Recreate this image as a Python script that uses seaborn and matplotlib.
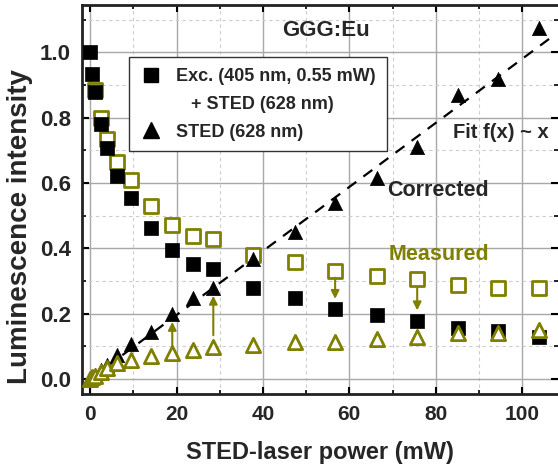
import matplotlib
matplotlib.use("Agg")
import matplotlib.pyplot as plt
import numpy as np
import pandas as pd
import seaborn as sns
from matplotlib.lines import Line2D
from matplotlib.ticker import MultipleLocator

# STED laser power (mW)
power = [0, 0.5, 1.2, 2.6, 3.9, 6.2, 9.5, 14.1, 19.0, 23.8, 28.5, 37.7,
         47.4, 56.7, 66.4, 75.7, 85.2, 94.4, 104.0]

# Exc. + STED: corrected (filled) and measured (open, first two hidden under filled)
exc_corr = [1.0, 0.935, 0.88, 0.78, 0.707, 0.62, 0.553, 0.462, 0.395, 0.352,
            0.336, 0.278, 0.248, 0.214, 0.196, 0.177, 0.156, 0.147, 0.13]
exc_meas = [np.nan, np.nan, 0.885, 0.80, 0.735, 0.663, 0.609, 0.529, 0.471, 0.437,
            0.428, 0.379, 0.358, 0.33, 0.315, 0.306, 0.287, 0.278, 0.278]

# STED only: corrected (filled) and measured (open)
sted_corr = [0.0, 0.005, 0.012, 0.027, 0.042, 0.073, 0.107, 0.144, 0.2, 0.248,
             0.278, 0.367, 0.45, 0.538, 0.614, 0.71, 0.868, 0.917, 1.076]
sted_meas = [0.0, 0.005, 0.01, 0.022, 0.033, 0.048, 0.058, 0.07, 0.08, 0.088,
             0.097, 0.104, 0.113, 0.113, 0.122, 0.13, 0.14, 0.14, 0.15]

# linear fit f(x) ~ x
fit_slope = 0.0098
fit_range = [0, 107]

# olive correction arrows
arrow_x = [19.0, 28.5, 56.7, 75.7]
arrow_from = [0.10, 0.134, 0.31, 0.278]
arrow_to = [0.175, 0.255, 0.245, 0.21]

OLIVE = "#808000"

sns.set_style("whitegrid")
plt.rcParams["font.family"] = ["Liberation Sans", "DejaVu Sans"]
plt.rcParams["font.weight"] = "bold"
plt.rcParams["axes.labelweight"] = "bold"

df = pd.DataFrame({"power": power, "exc_corr": exc_corr, "exc_meas": exc_meas,
                   "sted_corr": sted_corr, "sted_meas": sted_meas})

fig = plt.figure(figsize=(5.58, 4.70), dpi=100)
ax = fig.add_axes([82 / 558, 76 / 470, 476 / 558, 389 / 470])

ms = 90
sns.scatterplot(data=df, x="power", y="exc_meas", marker="s", s=ms,
                facecolor="white", edgecolor=OLIVE, linewidth=2, ax=ax, zorder=3)
sns.scatterplot(data=df, x="power", y="exc_corr", marker="s", s=ms,
                color="black", edgecolor="black", linewidth=0.5, ax=ax, zorder=4)
sns.scatterplot(data=df, x="power", y="sted_corr", marker="^", s=ms + 15,
                color="black", edgecolor="black", linewidth=0.5, ax=ax, zorder=5)
sns.scatterplot(data=df, x="power", y="sted_meas", marker="^", s=ms + 15,
                facecolor="white", edgecolor=OLIVE, linewidth=2, ax=ax, zorder=6)

fx = np.array(fit_range)
ax.plot(fx, fit_slope * fx, color="black", ls=(0, (5, 4)), lw=1.6, zorder=2)

for xa, y0, y1 in zip(arrow_x, arrow_from, arrow_to):
    ax.annotate("", xy=(xa, y1), xytext=(xa, y0),
                arrowprops=dict(arrowstyle="-|>", color=OLIVE, lw=1.5,
                                mutation_scale=12, shrinkA=0, shrinkB=0),
                zorder=7)

ax.text(44.5, 1.067, "GGG:Eu", fontsize=16, fontweight="bold", va="center")
ax.text(84, 0.755, "Fit f(x) ~ x", fontsize=14.5, fontweight="bold", va="center")
ax.text(68.7, 0.578, "Corrected", fontsize=15.5, fontweight="bold", va="center")
ax.text(69, 0.38, "Measured", fontsize=15.5, fontweight="bold", va="center",
        color=OLIVE)

ax.set_xlim(-1.9, 108.3)
ax.set_ylim(-0.046, 1.145)
ax.xaxis.set_major_locator(MultipleLocator(20))
ax.xaxis.set_minor_locator(MultipleLocator(10))
ax.yaxis.set_major_locator(MultipleLocator(0.2))
ax.yaxis.set_minor_locator(MultipleLocator(0.1))
ax.set_yticks(np.arange(0, 1.01, 0.2))
ax.set_yticklabels([f"{v:.1f}" for v in np.arange(0, 1.01, 0.2)])

ax.grid(which="major", color="#a8a8a8", lw=1.0, ls="-")
ax.grid(which="minor", color="#cccccc", lw=0.8, ls=(0, (3, 3)))
ax.set_axisbelow(True)

ax.tick_params(which="both", direction="in", top=True, right=True,
               bottom=True, left=True, color="black")
ax.tick_params(axis="x", labelsize=15)
ax.tick_params(axis="y", labelsize=16)
ax.tick_params(which="major", length=5, width=1.5, pad=8)
ax.tick_params(which="minor", length=3, width=1.2)
for lab in ax.get_xticklabels() + ax.get_yticklabels():
    lab.set_fontweight("bold")

for side in ["left", "bottom", "top"]:
    ax.spines[side].set_color("#222222")
    ax.spines[side].set_linewidth(2)
ax.spines["right"].set_visible(False)

ax.set_xlabel("STED-laser power (mW)", fontsize=17, fontweight="bold", labelpad=12)
ax.set_ylabel("Luminescence intensity", fontsize=20, fontweight="bold")
ax.yaxis.set_label_coords(-0.103, 0.43)

handles = [
    Line2D([], [], marker="s", color="black", ls="", markersize=10),
    Line2D([], [], marker="", ls=""),
    Line2D([], [], marker="^", color="black", ls="", markersize=11),
]
labels = ["Exc. (405 nm, 0.55 mW)", "   + STED (628 nm)", "STED (628 nm)"]
leg = ax.legend(handles, labels, loc="upper left", bbox_to_anchor=(0.099, 0.866),
                borderaxespad=0, fancybox=False, frameon=True, fontsize=13,
                labelspacing=0.6, handlelength=1.2, handletextpad=0.8,
                borderpad=0.6)
leg.get_frame().set_edgecolor("#333333")
leg.get_frame().set_linewidth(1.0)
leg.get_frame().set_alpha(1)
for t in leg.get_texts():
    t.set_fontweight("bold")

fig.savefig("out.png", dpi=100)
